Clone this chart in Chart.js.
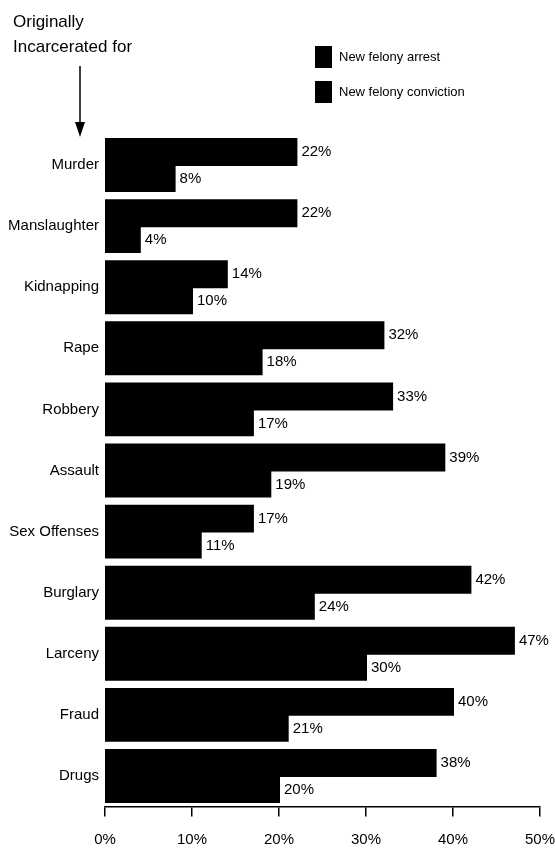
<!DOCTYPE html>
<html>
<head>
<meta charset="utf-8">
<script src="https://cdn.jsdelivr.net/npm/chart.js@4.4.1/dist/chart.umd.min.js"></script>
<style>
  html, body { margin: 0; padding: 0; background: #fff; overflow: hidden; }
  #wrap { position: relative; width: 555px; height: 856px; overflow: hidden; }
</style>
</head>
<body>
<div id="wrap"><canvas id="c" width="572" height="856"></canvas></div>
<script>
const categories = ['Murder','Manslaughter','Kidnapping','Rape','Robbery','Assault','Sex Offenses','Burglary','Larceny','Fraud','Drugs'];
const arrestValues = [22, 22, 14, 32, 33, 39, 17, 42, 47, 40, 38];
const convictionValues = [8, 4, 10, 18, 17, 19, 11, 24, 30, 21, 20];
const seriesLabels = ['New felony arrest', 'New felony conviction'];
const xTicks = [0, 10, 20, 30, 40, 50];
const titleLines = ['Originally', 'Incarcerated for'];

const FONT = "'Liberation Sans', Arial, Helvetica, sans-serif";

const extras = {
  id: 'extras',
  afterDatasetsDraw(chart) {
    const ctx = chart.ctx;
    ctx.save();
    ctx.fillStyle = '#000';
    ctx.font = '15px ' + FONT;
    ctx.textBaseline = 'middle';
    ctx.textAlign = 'left';
    chart.data.datasets.forEach((ds, di) => {
      const meta = chart.getDatasetMeta(di);
      meta.data.forEach((bar, i) => {
        ctx.fillText(ds.data[i] + '%', bar.x + 5, bar.y + (di === 1 ? 1 : 0));
      });
    });
    ctx.restore();
  },
  afterDraw(chart) {
    const ctx = chart.ctx;
    ctx.save();
    ctx.fillStyle = '#000';
    ctx.strokeStyle = '#000';
    // title
    ctx.font = '17px ' + FONT;
    ctx.textBaseline = 'middle';
    ctx.textAlign = 'left';
    ctx.fillText(titleLines[0], 13, 22);
    ctx.fillText(titleLines[1], 13, 47);
    // arrow
    ctx.lineWidth = 1.5;
    ctx.beginPath();
    ctx.moveTo(80, 66);
    ctx.lineTo(80, 126);
    ctx.stroke();
    ctx.beginPath();
    ctx.moveTo(75, 122);
    ctx.lineTo(85, 122);
    ctx.lineTo(80, 137);
    ctx.closePath();
    ctx.fill();
    // legend
    ctx.font = '13px ' + FONT;
    const ly = [57, 92];
    chart.data.datasets.forEach((ds, di) => {
      ctx.fillStyle = ds.backgroundColor;
      ctx.fillRect(315, ly[di] - 11, 17, 22);
      ctx.fillStyle = '#000';
      ctx.fillText(ds.label, 339, ly[di]);
    });
    ctx.restore();
  }
};

new Chart(document.getElementById('c'), {
  type: 'bar',
  data: {
    labels: categories,
    datasets: [
      { label: seriesLabels[0], data: arrestValues, backgroundColor: '#000', borderColor: '#000', borderWidth: 0, inflateAmount: 1 },
      { label: seriesLabels[1], data: convictionValues, backgroundColor: '#000', borderColor: '#000', borderWidth: 0, inflateAmount: 1 }
    ]
  },
  options: {
    indexAxis: 'y',
    responsive: false,
    animation: false,
    devicePixelRatio: 1,
    layout: { padding: { top: 134.5, left: 0, right: 32, bottom: 0 } },
    datasets: { bar: { categoryPercentage: 0.85, barPercentage: 1.0 } },
    plugins: {
      legend: { display: false },
      title: { display: false },
      tooltip: { enabled: false }
    },
    scales: {
      x: {
        min: 0, max: 50,
        afterFit(scale) { scale.height = 49.5; },
        afterBuildTicks(scale) { scale.ticks = xTicks.map(v => ({ value: v })); },
        ticks: {
          callback: v => v + '%',
          color: '#000',
          padding: 14,
          maxRotation: 0,
          font: { family: FONT, size: 15 }
        },
        grid: { drawOnChartArea: false, drawTicks: true, tickLength: 10, color: '#000', lineWidth: 1.5 },
        border: { display: true, color: '#000', width: 1.5 }
      },
      y: {
        afterFit(scale) { scale.width = 105; },
        ticks: {
          color: '#000',
          padding: 6,
          font: { family: FONT, size: 15 }
        },
        grid: { display: false, drawTicks: false },
        border: { display: false }
      }
    }
  },
  plugins: [extras]
});
</script>
</body>
</html>
